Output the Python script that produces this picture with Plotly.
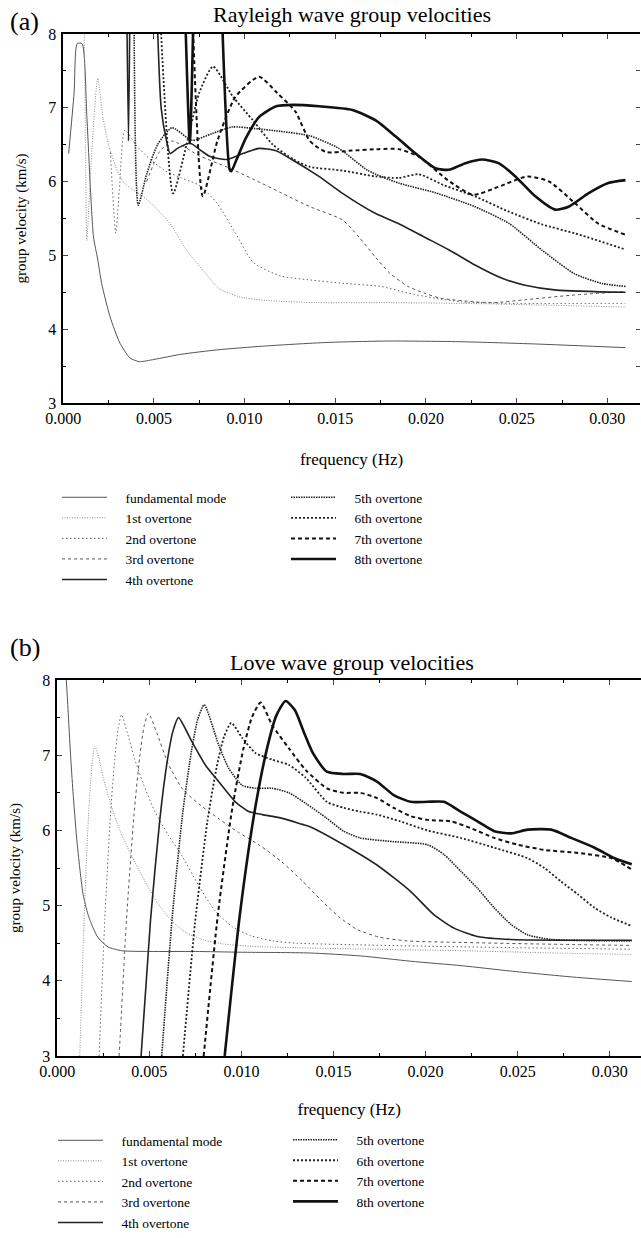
import plotly.graph_objects as go

# ── Values (frequency in Hz, group velocity in km/s) ──
# None splits a curve; values above 8 leave the plot through the top edge.
MODE_NAMES = ["fundamental mode", "1st overtone", "2nd overtone", "3rd overtone", "4th overtone",
              "5th overtone", "6th overtone", "7th overtone", "8th overtone"]

# Rayleigh (a)
ray_f0 = [0.0003, 0.0006, 0.00077, 0.00104, 0.0013, 0.0015, 0.00167, 0.0019, 0.00212, 0.00258, 0.00313,
          0.00368, 0.0042, 0.005, 0.0065, 0.0085, 0.011, 0.0145, 0.018, 0.022, 0.026, 0.031]
ray_v0 = [6.38, 7.2, 7.87, 7.87, 6.9, 5.9, 5.25, 4.95, 4.62, 4.17, 3.81, 3.61, 3.56, 3.59, 3.66, 3.72,
          3.77, 3.82, 3.84, 3.83, 3.80, 3.75]
ray_f1 = [0.00115, 0.00125, 0.0013, 0.0016, 0.0019, 0.0022, 0.0025, 0.0029, 0.0033, 0.0037, 0.0044, 0.0052,
          0.0059, 0.0068, 0.0077, 0.0086, 0.0097, 0.0112, 0.014, 0.018, 0.022, 0.026, 0.031]
ray_v1 = [8.5, 6.0, 5.2, 6.5, 7.4, 6.85, 6.5, 6.2, 6.0, 5.91, 5.8, 5.62, 5.43, 5.07, 4.8, 4.55, 4.44, 4.39,
          4.36, 4.36, 4.35, 4.33, 4.30]
ray_f2 = [0.0026, 0.0029, 0.0031, 0.0034, 0.0040, 0.0048, 0.0056, 0.0065, 0.0075, 0.0085, 0.0095, 0.0105,
          0.012, 0.0135, 0.0155, 0.0175, 0.019, 0.0205, 0.022, 0.025, 0.031]
ray_v2 = [6.4, 5.3, 5.9, 6.7, 6.5, 6.3, 6.15, 6.05, 5.95, 5.7, 5.3, 4.9, 4.72, 4.67, 4.62, 4.58, 4.49, 4.42,
          4.37, 4.35, 4.35]
ray_f3 = [0.0046, 0.0053, 0.006, 0.0075, 0.009, 0.0105, 0.012, 0.0136, 0.0154, 0.0163, 0.0172, 0.018,
          0.019, 0.0199, 0.0208, 0.0227, 0.0238, 0.0255, 0.028, 0.031]
ray_v3 = [6.0, 6.4, 6.55, 6.35, 6.2, 6.03, 5.85, 5.66, 5.48, 5.25, 4.98, 4.76, 4.58, 4.49, 4.42, 4.37, 4.36,
          4.40, 4.46, 4.51]
ray_f4 = [0.0035, 0.0036, 0.00368, None, 0.00515, 0.0054, 0.0057, 0.0059, 0.0063, 0.0070, 0.0076, 0.0081,
          0.0090, 0.0099, 0.0108, 0.0117, 0.0126, 0.0141, 0.0154, 0.0172, 0.0185, 0.0199, 0.0213, 0.0227,
          0.0242, 0.0254, 0.0272, 0.031]
ray_v4 = [8.5, 6.55, 8.5, None, 8.5, 7.0, 6.55, 6.38, 6.45, 6.52, 6.42, 6.34, 6.3, 6.38, 6.45, 6.42, 6.3,
          6.07, 5.84, 5.57, 5.43, 5.25, 5.07, 4.87, 4.69, 4.6, 4.53, 4.5]
ray_f5 = [0.0039, 0.00414, 0.0046, 0.0052, 0.006, 0.0071, 0.0082, 0.0093, 0.0105, 0.012, 0.0136, 0.0152,
          0.0168, 0.0185, 0.0205, 0.0227, 0.0246, 0.0264, 0.0282, 0.0297, 0.031]
ray_v5 = [8.5, 5.68, 6.1, 6.5, 6.73, 6.56, 6.65, 6.74, 6.72, 6.68, 6.62, 6.45, 6.15, 5.98, 5.85, 5.66, 5.43,
          5.07, 4.75, 4.62, 4.58]
ray_f6 = [0.0053, 0.00606, 0.0068, 0.0075, 0.00826, 0.00936, 0.01046, 0.01156, 0.0127, 0.0136, 0.0154,
          0.0172, 0.0185, 0.0196, 0.021, 0.0227, 0.0245, 0.0264, 0.0282, 0.031]
ray_v6 = [8.5, 5.84, 6.5, 7.2, 7.56, 7.15, 6.83, 6.5, 6.3, 6.2, 6.15, 6.07, 6.05, 6.1, 5.95, 5.8, 5.6, 5.42,
          5.3, 5.08]
ray_f7 = [0.0071, 0.0077, 0.0085, 0.0095, 0.0108, 0.0118, 0.0128, 0.0136, 0.0145, 0.0159, 0.0174, 0.0185,
          0.0196, 0.0212, 0.0226, 0.024, 0.0256, 0.0268, 0.0282, 0.0295, 0.031]
ray_v7 = [8.5, 5.8, 6.55, 7.15, 7.42, 7.2, 6.95, 6.55, 6.4, 6.42, 6.44, 6.44, 6.34, 6.02, 5.82, 5.93, 6.07,
          6.0, 5.71, 5.43, 5.28]
ray_f8 = [0.0067, 0.00698, 0.0072, None, 0.00872, 0.00918, 0.00927, 0.00954, 0.01009, 0.01082, 0.01174,
          0.01266, 0.0141, 0.01595, 0.01723, 0.01834, 0.01943, 0.02053, 0.02126, 0.02218, 0.02309, 0.024,
          0.02493, 0.02603, 0.02712, 0.02786, 0.02895, 0.03005, 0.031]
ray_v8 = [8.5, 6.52, 8.5, None, 8.5, 6.16, 6.14, 6.29, 6.6, 6.88, 7.02, 7.04, 7.02, 6.97, 6.83, 6.61, 6.38,
          6.18, 6.16, 6.25, 6.30, 6.25, 6.07, 5.8, 5.62, 5.66, 5.84, 5.98, 6.02]

# Love (b)
love_f0 = [0.00049, 0.00058, 0.00072, 0.00085, 0.00105, 0.00122, 0.0014, 0.00167, 0.00195, 0.00222, 0.00276,
           0.0035, 0.005, 0.0075, 0.010, 0.0137, 0.0165, 0.0192, 0.022, 0.0246, 0.028, 0.0312]
love_v0 = [8.0, 7.62, 7.0, 6.52, 5.9, 5.5, 5.15, 4.88, 4.7, 4.57, 4.45, 4.40, 4.39, 4.39, 4.38, 4.37, 4.33,
           4.26, 4.20, 4.13, 4.05, 3.99]
love_f1 = [0.00122, 0.00143, 0.00163, 0.00179, 0.00192, 0.00204, 0.0022, 0.0025, 0.0029, 0.0034, 0.004,
           0.0047, 0.0054, 0.0062, 0.007, 0.008, 0.009, 0.0105, 0.013, 0.017, 0.022, 0.027, 0.0312]
love_v1 = [3.0, 4.65, 5.88, 6.58, 6.96, 7.12, 7.02, 6.7, 6.35, 6.0, 5.68, 5.35, 5.05, 4.8, 4.64, 4.54, 4.49,
           4.46, 4.44, 4.42, 4.40, 4.37, 4.35]
love_f2 = [0.00227, 0.00258, 0.00288, 0.00312, 0.00331, 0.00349, 0.0038, 0.0042, 0.0047, 0.0053, 0.006,
           0.0068, 0.0076, 0.0085, 0.0095, 0.0105, 0.0117, 0.013, 0.016, 0.02, 0.025, 0.0312]
love_v2 = [3.0, 4.82, 6.18, 6.95, 7.36, 7.54, 7.3, 6.95, 6.6, 6.25, 5.95, 5.65, 5.3, 4.95, 4.72, 4.6, 4.53,
           4.5, 4.48, 4.46, 4.44, 4.42]
love_f3 = [0.00336, 0.00376, 0.00416, 0.00447, 0.00471, 0.00495, 0.0054, 0.006, 0.0068, 0.0078, 0.0088,
           0.0098, 0.011, 0.0122, 0.0133, 0.0143, 0.0153, 0.0163, 0.0175, 0.019, 0.022, 0.026, 0.0312]
love_v3 = [3.0, 4.82, 6.19, 6.97, 7.38, 7.56, 7.3, 6.9, 6.55, 6.33, 6.15, 5.98, 5.8, 5.58, 5.33, 5.08, 4.85,
           4.68, 4.58, 4.53, 4.51, 4.49, 4.47]
love_f4 = [0.00455, 0.00506, 0.00557, 0.00597, 0.00628, 0.00658, 0.00731, 0.00804, 0.00876, 0.00967,
           0.0104, 0.01113, 0.01222, 0.01331, 0.01373, 0.01555, 0.01736, 0.01918, 0.02045, 0.02155, 0.02282,
           0.02464, 0.0312]
love_v4 = [3.0, 4.8, 6.15, 6.92, 7.32, 7.5, 7.18, 6.87, 6.65, 6.38, 6.25, 6.21, 6.16, 6.08, 6.05, 5.81, 5.54,
           5.19, 4.88, 4.70, 4.59, 4.55, 4.54]
love_f5 = [0.00567, 0.00625, 0.00683, 0.00729, 0.00763, 0.00798, 0.00876, 0.0093, 0.01004, 0.01076, 0.01167,
           0.01258, 0.01349, 0.01464, 0.01555, 0.01645, 0.01827, 0.0201, 0.021, 0.0219, 0.02282, 0.02373,
           0.02464, 0.02555, 0.02682, 0.0312]
love_v5 = [3.0, 4.87, 6.27, 7.06, 7.48, 7.67, 7.14, 6.83, 6.6, 6.56, 6.56, 6.5, 6.36, 6.16, 5.99, 5.9, 5.85,
           5.81, 5.68, 5.46, 5.23, 4.97, 4.75, 4.61, 4.55, 4.53]
love_f6 = [0.00682, 0.00748, 0.00814, 0.00866, 0.00906, 0.00945, 0.01004, 0.01076, 0.01167, 0.01258,
           0.01349, 0.01464, 0.01555, 0.01645, 0.01736, 0.01863, 0.0201, 0.0219, 0.02373, 0.02555, 0.02645,
           0.02736, 0.02827, 0.02918, 0.03009, 0.0312]
love_v6 = [3.0, 4.77, 6.1, 6.85, 7.25, 7.43, 7.23, 7.03, 6.94, 6.87, 6.7, 6.38, 6.3, 6.25, 6.21, 6.12, 6.0,
           5.9, 5.77, 5.63, 5.5, 5.32, 5.15, 4.97, 4.84, 4.73]
love_f7 = [0.00795, 0.00872, 0.0095, 0.01011, 0.01058, 0.01104, 0.01167, 0.01258, 0.0135, 0.01464, 0.01555,
           0.01645, 0.01736, 0.01827, 0.01918, 0.0201, 0.02137, 0.02246, 0.02373, 0.025, 0.02645, 0.02827,
           0.0301, 0.0312]
love_v7 = [3.0, 4.88, 6.29, 7.09, 7.51, 7.70, 7.4, 7.09, 6.8, 6.56, 6.5, 6.5, 6.43, 6.30, 6.19, 6.14, 6.12,
           6.03, 5.9, 5.81, 5.74, 5.7, 5.63, 5.48]
love_f8 = [0.00909, 0.00992, 0.01075, 0.01141, 0.0119, 0.0124, 0.0129, 0.0134, 0.0139, 0.01464, 0.01555,
           0.01645, 0.01736, 0.01827, 0.01918, 0.0201, 0.021, 0.0219, 0.02282, 0.02373, 0.02464, 0.02555,
           0.02682, 0.02791, 0.02918, 0.03027, 0.0312]
love_v8 = [3.0, 4.89, 6.3, 7.11, 7.53, 7.72, 7.6, 7.3, 7.02, 6.78, 6.75, 6.75, 6.65, 6.47, 6.38, 6.38, 6.38,
           6.25, 6.12, 5.99, 5.96, 6.01, 6.01, 5.9, 5.77, 5.63, 5.55]

X_TICKS = [0.000, 0.005, 0.010, 0.015, 0.020, 0.025, 0.030]
X_TICK_LABELS = ["0.000", "0.005", "0.010", "0.015", "0.020", "0.025", "0.030"]

# ── line look for each mode: (colour, width, dash) ─────────────────────────────
MODE_STYLES = [
    ("#555555", 1.0, "solid"),
    ("#8a8a8a", 1.0, "1px,1.5px"),
    ("#666666", 1.0, "1.5px,2.5px"),
    ("#555555", 1.0, "3px,3px"),
    ("#222222", 1.6, "solid"),
    ("#222222", 1.6, "1.5px,1px"),
    ("#222222", 1.8, "2px,2px"),
    ("#111111", 2.0, "4px,3px"),
    ("#111111", 2.6, "solid"),
]

FONT = "Liberation Serif, Times New Roman, DejaVu Serif, serif"

rayleigh = [(ray_f0, ray_v0), (ray_f1, ray_v1), (ray_f2, ray_v2), (ray_f3, ray_v3), (ray_f4, ray_v4),
            (ray_f5, ray_v5), (ray_f6, ray_v6), (ray_f7, ray_v7), (ray_f8, ray_v8)]
love = [(love_f0, love_v0), (love_f1, love_v1), (love_f2, love_v2), (love_f3, love_v3), (love_f4, love_v4),
        (love_f5, love_v5), (love_f6, love_v6), (love_f7, love_v7), (love_f8, love_v8)]

fig = go.Figure()

GAP = "\u00a0\u00a0\u00a0\u00a0"


def add_panel(curves, xref, yref, legends):
    for i, (f, v) in enumerate(curves):
        color, width, dash = MODE_STYLES[i]
        fig.add_trace(go.Scatter(
            x=f, y=v, mode="lines", name=GAP + MODE_NAMES[i],
            line=dict(color=color, width=width, dash=dash, shape="spline", smoothing=0.6),
            connectgaps=False,
            xaxis=xref, yaxis=yref,
            legend=legends[0] if i < 5 else legends[1],
            hoverinfo="skip",
        ))


add_panel(rayleigh, "x", "y", ("legend", "legend2"))
add_panel(love, "x2", "y2", ("legend3", "legend4"))

# empty trace so the right-hand tick axis of panel (a) is drawn
fig.add_trace(go.Scatter(x=[0], y=[3], mode="none", showlegend=False, xaxis="x", yaxis="y3",
                         hoverinfo="skip"))

W, H = 641, 1238
LEG_SIZE = 13.5
ROW = LEG_SIZE * 1.3 + 3   # height of one legend row


def px_x(p):
    return p / W


def px_y(p):
    return 1 - p / H


tick_font = dict(family=FONT, size=16, color="black")
title_font = dict(family=FONT, size=17, color="black")


def x_axis(title_gap):
    return dict(
        tickvals=X_TICKS, ticktext=X_TICK_LABELS, ticks="inside", ticklen=5, tickwidth=1,
        showline=True, linewidth=2, linecolor="black", mirror="ticks", showgrid=False, zeroline=False,
        minor=dict(dtick=0.0025, tick0=0, ticks="inside", ticklen=3, tickcolor="black"),
        tickfont=tick_font, ticklabelstandoff=0, automargin=False,
        title=dict(text="frequency (Hz)", font=title_font, standoff=title_gap),
    )


y_common = dict(
    range=[3, 8], dtick=1, ticks="inside", ticklen=5, tickwidth=1,
    showline=True, linewidth=1.5, linecolor="black", showgrid=False, zeroline=False,
    minor=dict(dtick=0.5, ticks="inside", ticklen=3, tickcolor="black"),
    tickfont=tick_font, ticklabelstandoff=2, automargin=False,
    title=dict(text="group velocity (km/s)", font=dict(family=FONT, size=15, color="black"), standoff=18),
)

leg_common = dict(font=dict(family=FONT, size=LEG_SIZE, color="black"), bgcolor="rgba(0,0,0,0)",
                  tracegroupgap=0, itemwidth=45, xanchor="left",
                  traceorder="normal", itemclick=False)

fig.update_layout(
    width=W, height=H,
    margin=dict(l=0, r=0, t=0, b=0, autoexpand=False),
    paper_bgcolor="white", plot_bgcolor="white",
    font=dict(family=FONT, color="black"),
    xaxis=dict(domain=[px_x(63.2), px_x(640)], range=[0, 0.0318], anchor="y", **x_axis(27)),
    yaxis=dict(domain=[px_y(403), px_y(34)], anchor="x", **y_common),
    yaxis3=dict(overlaying="y", side="right", anchor="x", range=[3, 8], dtick=0.5, ticks="inside",
                ticklen=4, showticklabels=False, showline=False, showgrid=False, zeroline=False,
                automargin=False),
    xaxis2=dict(domain=[px_x(57.3), 1.0], range=[0, 0.0317], anchor="y2", **x_axis(24)),
    yaxis2=dict(domain=[px_y(1056), px_y(680)], anchor="x2", **y_common),
    legend=dict(x=px_x(57), y=px_y(482), yanchor="top", **leg_common),
    legend2=dict(x=px_x(286), y=px_y(482), yanchor="top", **leg_common),
    legend3=dict(x=px_x(53), y=0, yanchor="bottom", **leg_common),
    legend4=dict(x=px_x(288), y=ROW / H, yanchor="bottom", **leg_common),
    annotations=[
        dict(text="(a)", x=px_x(8), y=px_y(21), xref="paper", yref="paper", xanchor="left",
             yanchor="middle", showarrow=False, font=dict(family=FONT, size=26, color="black")),
        dict(text="Rayleigh wave group velocities", x=px_x(352), y=px_y(14), xref="paper", yref="paper",
             xanchor="center", yanchor="middle", showarrow=False,
             font=dict(family=FONT, size=22, color="black")),
        dict(text="(b)", x=px_x(8), y=px_y(647), xref="paper", yref="paper", xanchor="left",
             yanchor="middle", showarrow=False, font=dict(family=FONT, size=26, color="black")),
        dict(text="Love wave group velocities", x=px_x(352), y=px_y(662), xref="paper", yref="paper",
             xanchor="center", yanchor="middle", showarrow=False,
             font=dict(family=FONT, size=22, color="black")),
    ],
    showlegend=True,
)

# the page's default body margin would shift the whole figure by 8px
fig.write_html("out.html", config={"displayModeBar": False},
               post_script="document.body.style.margin='0';")
